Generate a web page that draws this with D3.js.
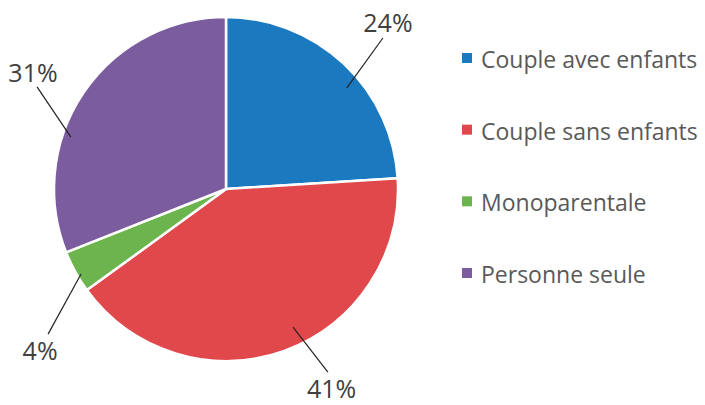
<!DOCTYPE html>
<html><head><meta charset="utf-8">
<script src="https://cdn.jsdelivr.net/npm/d3@7"></script>
<style>body{margin:0;background:#fff}</style>
</head><body>
<svg id="c" width="705" height="405"></svg>
<script>
const categories = ["Couple avec enfants", "Couple sans enfants", "Monoparentale", "Personne seule"];
const values = [24, 41, 4, 31];
const labels = ["24%", "41%", "4%", "31%"];
const colors = ["#1b79bf", "#e0484b", "#6cb44d", "#7b5d9f"];

const svg = d3.select("#c");
const cx = 226, cy = 189, r = 172;
const g = svg.append("g").attr("transform", `translate(${cx},${cy})`);
const pie = d3.pie().sort(null).value(d => d)(values);
const arc = d3.arc().innerRadius(0).outerRadius(r);
g.selectAll("path").data(pie).join("path")
  .attr("d", arc).attr("fill", (d, i) => colors[i])
  .attr("stroke", "#fff").attr("stroke-width", 2.5).attr("stroke-linejoin", "round");

// leader line layout: [angle offset deg, radius factor] for line start, line end, text
const lineStart = [[6.9, 0.916], [-6.1, 0.892], [-1.6, 0.977], [-15.7, 0.951]];
const lineEnd   = [[2.9, 1.266], [-9.3, 1.218], [-10.4, 1.335], [-5.8, 1.249]];
const textPos   = [[0.9, 1.353], [-8.2, 1.308], [-12.1, 1.43], [-3.0, 1.312]];
const polar = (d, o) => {
  const a = (d.startAngle + d.endAngle) / 2 + o[0] * Math.PI / 180;
  return [Math.sin(a) * r * o[1], -Math.cos(a) * r * o[1]];
};
pie.forEach((d, i) => {
  const p0 = polar(d, lineStart[i]), p1 = polar(d, lineEnd[i]), pt = polar(d, textPos[i]);
  g.append("line").attr("x1", p0[0]).attr("y1", p0[1]).attr("x2", p1[0]).attr("y2", p1[1])
    .attr("stroke", "#222").attr("stroke-width", 1.2);
  g.append("text").attr("x", pt[0]).attr("y", pt[1])
    .attr("text-anchor", "middle").attr("dominant-baseline", "central")
    .attr("font-family", "Open Sans, sans-serif").attr("font-size", 25)
    .attr("fill", "#404040").text(labels[i]);
});

// legend
const ly = d3.scalePoint().domain(categories).range([58, 273]);
const lg = svg.append("g");
categories.forEach((c, i) => {
  lg.append("rect").attr("x", 462).attr("y", ly(c) - 5).attr("width", 10).attr("height", 10).attr("fill", colors[i]);
  lg.append("text").attr("x", 481).attr("y", ly(c) + 1).attr("dominant-baseline", "central")
    .attr("font-family", "Open Sans, sans-serif").attr("font-size", 23)
    .attr("fill", "#595959").text(c);
});
</script>
</body></html>
